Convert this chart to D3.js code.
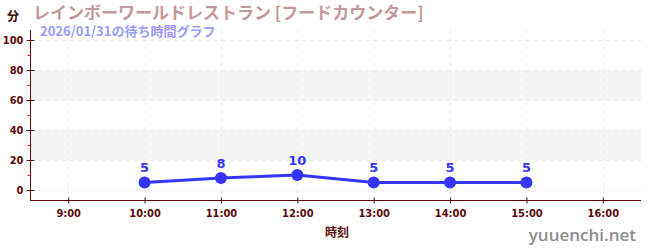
<!DOCTYPE html>
<html><head><meta charset="utf-8">
<script src="https://cdn.jsdelivr.net/npm/d3@7"></script>
<style>body{margin:0;background:#fff;}svg{display:block;font-family:"Noto Sans CJK JP","Noto Sans",sans-serif;}</style>
</head><body>
<svg id="c" width="650" height="250"></svg>
<script>
const hours = [10, 11, 12, 13, 14, 15];
const waits = [5, 8, 10, 5, 5, 5];
const xTickHours = [9, 10, 11, 12, 13, 14, 15, 16];
const yTicks = [0, 20, 40, 60, 80, 100];
const yMinorTicks = [10, 30, 50, 70, 90];
const bands = [[20, 40], [60, 80]];
const title = "レインボーワールドレストラン [フードカウンター]";
const subtitle = "2026/01/31の待ち時間グラフ";

const svg = d3.select("#c");
const L = 30, R = 641, T = 30, B = 200;
const x = d3.scaleLinear().domain([8.5, 16.5]).range([L, R]);
const y = d3.scaleLinear().domain([-6.667, 106.667]).range([B, T]);
const axisColor = "#5a0a0a";

// bands
svg.selectAll("rect.band").data(bands).enter().append("rect")
  .attr("x", L).attr("width", R - L)
  .attr("y", d => y(d[1])).attr("height", d => y(d[0]) - y(d[1]))
  .attr("fill", "#f5f5f5");

// grid
svg.selectAll("line.hg").data(yTicks).enter().append("line")
  .attr("x1", L).attr("x2", R).attr("y1", d => y(d) + 0.5).attr("y2", d => y(d) + 0.5)
  .attr("stroke", "#ebebeb").attr("stroke-dasharray", "4,4");
svg.selectAll("line.vg").data(xTickHours).enter().append("line")
  .attr("y1", T).attr("y2", B).attr("x1", d => Math.round(x(d)) + 0.5).attr("x2", d => Math.round(x(d)) + 0.5)
  .attr("stroke", "#ebebeb").attr("stroke-dasharray", "4,4");

// axes
const yAxis = d3.axisLeft(y).tickValues(yTicks).tickSize(5).tickSizeOuter(0);
const gy = svg.append("g").attr("transform", `translate(${L + 0.5},0)`).call(yAxis);
gy.select(".domain").attr("stroke", axisColor).attr("d", `M0,${T}V${B}`);
gy.selectAll(".tick line").attr("stroke", axisColor).attr("x1", 4).attr("x2", -4);
gy.selectAll(".tick text").attr("fill", axisColor).attr("font-size", 11).attr("font-weight", "bold").attr("x", -7)
  .attr("font-family", "'Liberation Sans Narrow','DejaVu Sans Condensed',sans-serif");
svg.selectAll("line.ym").data(yMinorTicks).enter().append("line")
  .attr("x1", L - 2.5).attr("x2", L + 0.5).attr("y1", d => y(d) + 0.5).attr("y2", d => y(d) + 0.5)
  .attr("stroke", "#e02020");

const xAxis = d3.axisBottom(x).tickValues(xTickHours).tickFormat(d => d + ":00").tickSize(4).tickSizeOuter(0);
const gx = svg.append("g").attr("transform", `translate(0,${B + 0.5})`).call(xAxis);
gx.select(".domain").attr("stroke", axisColor).attr("d", `M${L},0H${R}`);
gx.selectAll(".tick line").attr("stroke", axisColor).attr("y1", -3).attr("y2", 3);
gx.selectAll(".tick text").attr("fill", axisColor).attr("font-size", 11).attr("font-weight", "bold").attr("dy", "0.85em")
  .attr("font-family", "'Liberation Sans Narrow','DejaVu Sans Condensed',sans-serif");

// line
const color = "#3535ff";
svg.append("path").datum(hours.map((h, i) => [h, waits[i]]))
  .attr("fill", "none").attr("stroke", color).attr("stroke-width", 3)
  .attr("d", d3.line().x(d => x(d[0])).y(d => y(d[1])));
svg.selectAll("circle.pt").data(hours).enter().append("circle")
  .attr("cx", d => x(d)).attr("cy", (d, i) => y(waits[i])).attr("r", 6).attr("fill", color);
svg.selectAll("text.lbl").data(hours).enter().append("text")
  .attr("x", d => x(d)).attr("y", (d, i) => y(waits[i]) - 10)
  .attr("text-anchor", "middle").attr("font-size", 13).attr("font-weight", "bold").attr("fill", color)
  .attr("font-family", "'DejaVu Sans','Noto Sans',sans-serif")
  .text((d, i) => waits[i]);

// texts
svg.append("text").attr("x", 33).attr("y", 19).attr("font-size", 17).attr("font-weight", "bold")
  .attr("fill", "#c49898").text(title);
svg.append("text").attr("x", 40).attr("y", 36).attr("font-size", 13).attr("font-weight", "bold")
  .attr("fill", "#9b9bff").text(subtitle);
svg.append("text").attr("x", 7).attr("y", 21).attr("font-size", 12).attr("font-weight", "bold")
  .attr("fill", "#3a0505").text("分");
svg.append("text").attr("x", 337).attr("y", 237).attr("text-anchor", "middle").attr("font-size", 12).attr("font-weight", "bold")
  .attr("fill", "#5a0a0a").text("時刻");
svg.append("text").attr("x", 636).attr("y", 241).attr("text-anchor", "end").attr("font-size", 17).attr("font-weight", 600)
  .attr("fill", "#8e8e8e").attr("font-family", "'Open Sans','Noto Sans',sans-serif").text("yuuenchi.net");
</script>
</body></html>
